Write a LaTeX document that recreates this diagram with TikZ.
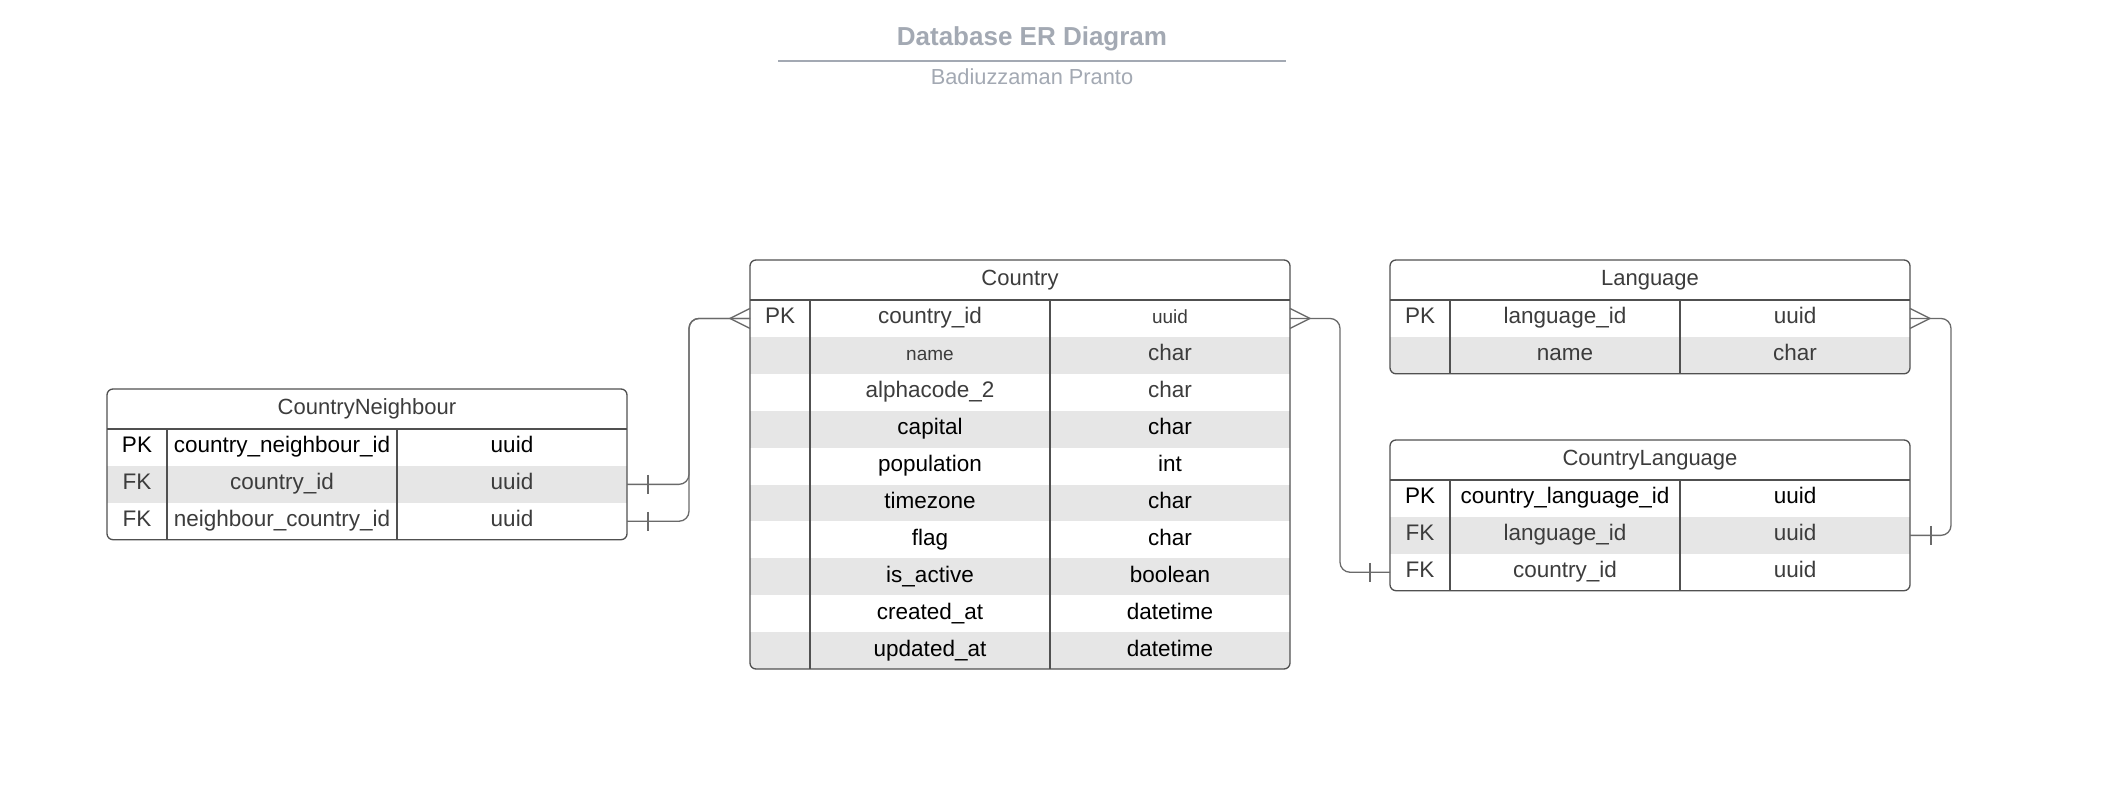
\documentclass[tikz,border=0pt]{standalone}
\usepackage{fontspec}
\setmainfont{Liberation Sans}
\usetikzlibrary{positioning,calc}

\definecolor{titlegray}{RGB}{163,169,179}
\definecolor{rowshade}{RGB}{230,230,230}
\definecolor{framegray}{RGB}{80,80,80}
\definecolor{softtext}{RGB}{60,60,60}

\newcommand{\cellfont}{\fontsize{22.5}{27}\selectfont}
\newcommand{\smalltxt}{\fontsize{19}{23}\selectfont}
\newcommand{\rowh}{36.9}

\tikzset{
  cell/.style={inner sep=0pt,text height=16pt,text depth=5pt,font=\cellfont},
  dark/.style={text=black},
  soft/.style={text=softtext},
  tabhead/.style={inner sep=0pt,text height=16pt,text depth=5pt,font=\fontsize{22}{26}\selectfont,text=softtext},
  frame/.style={draw=framegray,line width=1.3pt},
  link/.style={draw=framegray!85,line width=1.3pt},
  doctitle/.style={anchor=base,inner sep=0pt,font=\fontsize{26}{30}\selectfont\bfseries,text=titlegray},
  docsub/.style={anchor=base,inner sep=0pt,font=\fontsize{21.8}{26}\selectfont,text=titlegray},
}

% #1 id, #2 left, #3 top, #4 first divider, #5 second divider, #6 right,
% #7 number of rows, #8 table name, #9 rows (key/field/type/colour)
\newcommand{\ertable}[9]{%
  \pgfmathsetmacro\erbot{#3+40+#7*\rowh}
  \begin{scope}
    \clip[rounded corners=6pt] (#2,#3) rectangle (#6,\erbot);
    \foreach[count=\i] \k/\f/\t/\c in {#9}{
      \pgfmathsetmacro\ytop{#3+40+(\i-1)*\rowh}
      \pgfmathsetmacro\ymid{\ytop+\rowh/2}
      \ifodd\i\else\fill[rowshade] ({#2},{\ytop}) rectangle ({#6},{\ytop+\rowh});\fi
      \node[cell,\c] (#1-k\i) at ({(#2+#4)/2},{\ymid}) {\k};
      \node[cell,\c] (#1-f\i) at ({(#4+#5)/2},{\ymid}) {\f};
      \node[cell,\c] (#1-t\i) at ({(#5+#6)/2},{\ymid}) {\t};
      \coordinate (#1-w\i) at ({#2},{\ymid});
      \coordinate (#1-e\i) at ({#6},{\ymid});
    }
  \end{scope}
  \node[tabhead] (#1) at ({(#2+#6)/2},{#3+20}) {#8};
  \draw[frame,rounded corners=6pt] (#2,#3) rectangle (#6,\erbot);
  \draw[frame] (#2,#3+40) -- (#6,#3+40) (#4,#3+40) -- (#4,\erbot) (#5,#3+40) -- (#5,\erbot);
}

\begin{document}
\begin{tikzpicture}[x=1pt,y=-1pt]
  \fill[white] (0,0) rectangle (2112,810);
  \useasboundingbox (0,0) rectangle (2112,810);

  % heading
  \node[doctitle] (title) at (1032,46) {Database ER Diagram};
  \draw[titlegray,line width=2pt] (778,61.5) -- (1286,61.5);
  \node[docsub] (author) at (1032,85) {Badiuzzaman Pranto};

  % tables
  \ertable{Country}{750}{260}{810}{1050}{1290}{10}{Country}{
    PK/country\_id/{\smalltxt uuid}/soft,
    {}/{\smalltxt name}/char/soft,
    {}/alphacode\_2/char/soft,
    {}/capital/char/dark,
    {}/population/int/dark,
    {}/timezone/char/dark,
    {}/flag/char/dark,
    {}/is\_active/boolean/dark,
    {}/created\_at/datetime/dark,
    {}/updated\_at/datetime/dark}
  \ertable{Neighbour}{107}{389}{167}{397}{627}{3}{CountryNeighbour}{
    PK/country\_neighbour\_id/uuid/dark,
    FK/country\_id/uuid/soft,
    FK/neighbour\_country\_id/uuid/soft}
  \ertable{Language}{1390}{260}{1450}{1680}{1910}{2}{Language}{
    PK/language\_id/uuid/soft,
    {}/name/char/soft}
  \ertable{CountryLang}{1390}{440}{1450}{1680}{1910}{3}{CountryLanguage}{
    PK/country\_language\_id/uuid/dark,
    FK/language\_id/uuid/soft,
    FK/country\_id/uuid/soft}

  % Country -< CountryNeighbour
  \draw[link,rounded corners=10pt] (Country-w1) -- ++(-61,0) |- (Neighbour-e2);
  \draw[link,rounded corners=10pt] (Country-w1) -- ++(-61,0) |- (Neighbour-e3);
  \draw[link] (Country-w1) ++(0,-10) -- ++(-20,10) -- ++(20,10);
  \draw[link] (Neighbour-e2) ++(21,-9.5) -- ++(0,19);
  \draw[link] (Neighbour-e3) ++(21,-9.5) -- ++(0,19);

  % Country -< CountryLanguage
  \draw[link,rounded corners=10pt] (Country-e1) -- ++(50,0) |- (CountryLang-w3);
  \draw[link] (Country-e1) ++(0,-10) -- ++(20,10) -- ++(-20,10);
  \draw[link] (CountryLang-w3) ++(-20,-9.5) -- ++(0,19);

  % Language -< CountryLanguage
  \draw[link,rounded corners=10pt] (Language-e1) -- ++(41,0) |- (CountryLang-e2);
  \draw[link] (Language-e1) ++(0,-10) -- ++(20,10) -- ++(-20,10);
  \draw[link] (CountryLang-e2) ++(21,-9.5) -- ++(0,19);
\end{tikzpicture}
\end{document}
